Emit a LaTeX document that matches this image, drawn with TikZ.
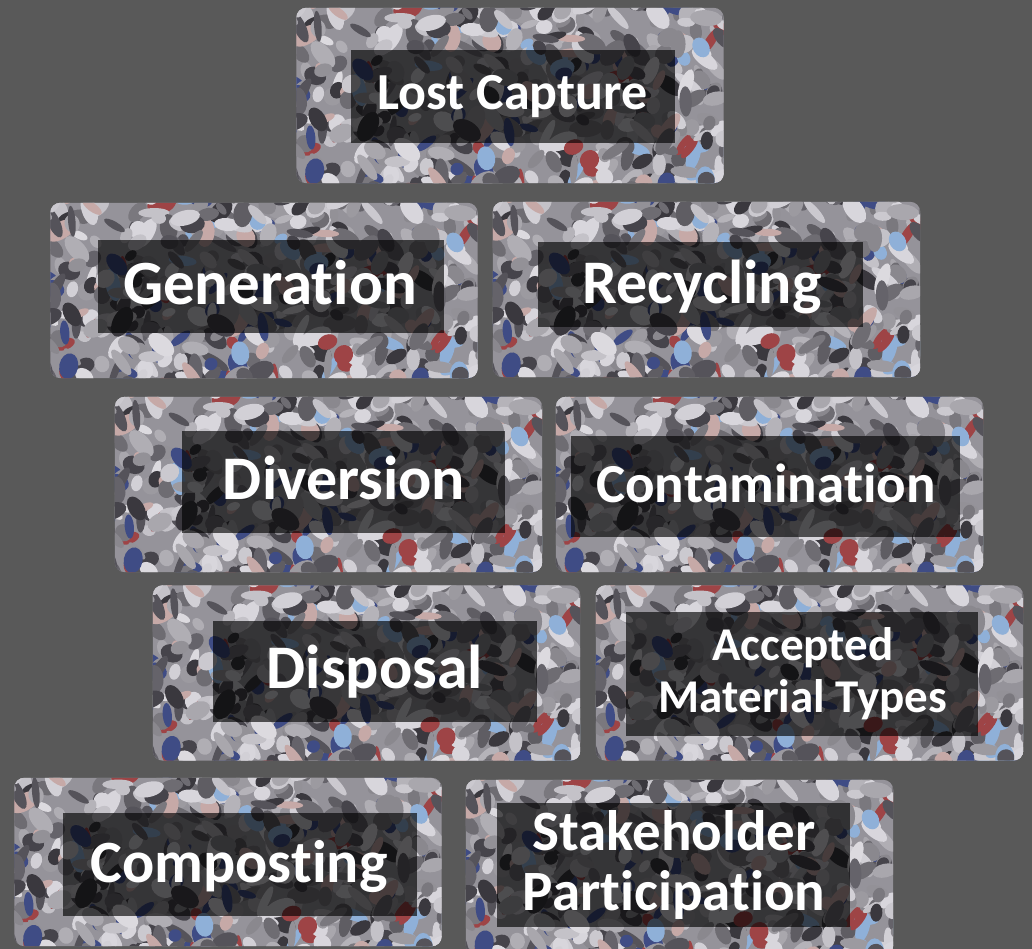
\documentclass[tikz,border=0pt]{standalone}
\usepackage{fontspec}
\setmainfont{Carlito}[RawFeature=-liga]
\definecolor{bgray}{HTML}{595959}
\definecolor{camobase}{HTML}{95939A}
\definecolor{camo0}{HTML}{DCDADF}
\definecolor{camo1}{HTML}{D2D0D6}
\definecolor{camo2}{HTML}{C4C2C8}
\definecolor{camo3}{HTML}{B5B3B9}
\definecolor{camo4}{HTML}{A9A7AD}
\definecolor{camo5}{HTML}{9C9AA0}
\definecolor{camo6}{HTML}{8A888E}
\definecolor{camo7}{HTML}{7A787E}
\definecolor{camo8}{HTML}{65636A}
\definecolor{camo9}{HTML}{55535A}
\definecolor{camo10}{HTML}{46444B}
\definecolor{camo11}{HTML}{3A383E}
\definecolor{camo12}{HTML}{9E4446}
\definecolor{camo13}{HTML}{3F4C85}
\definecolor{camo14}{HTML}{C6A9A7}
\definecolor{camo15}{HTML}{8FB0D8}
\definecolor{camo16}{HTML}{CBC9CF}
\definecolor{camo17}{HTML}{B0AEB4}
\definecolor{camo18}{HTML}{6E6C72}
\definecolor{camo19}{HTML}{D8D6DC}
\definecolor{camo20}{HTML}{939197}
\definecolor{camo21}{HTML}{5F5D63}
% the same speckled fill in every box, clipped to the box
\newcommand\camo[1]{%
  \begin{scope}
    \clip[rounded corners=10pt] (#1.north west) rectangle (#1.south east);
    \begin{scope}[shift={(#1.center)}]
      \pgfmathsetseed{1234}%
      \fill[camobase] (-225,-95) rectangle (225,95);
      \foreach \k in {1,...,580}{%
        \pgfmathsetmacro\bx{rnd*460-230}%
        \pgfmathsetmacro\by{rnd*200-100}%
        \pgfmathsetmacro\ba{6+rnd*11}%
        \pgfmathsetmacro\bb{3.5+rnd*6}%
        \pgfmathsetmacro\br{rnd*180}%
        \pgfmathtruncatemacro\bc{rnd*22}%
        \fill[camo\bc, shift={(\bx,\by)}, rotate=\br] (0,0) ellipse [x radius=\ba, y radius=\bb];
      }
    \end{scope}
  \end{scope}}

\begin{document}
\begin{tikzpicture}[x=1pt, y=-1pt, inner sep=0pt,
    tile/.style={rectangle, minimum width=427pt, minimum height=175pt},
    shade/.style={rectangle, fill=black, fill opacity=0.64},
    word/.style={anchor=base, text=white, align=center, font=\bfseries}]
  \fill[bgray] (0,0) rectangle (1032,949);
  \clip (0,0) rectangle (1032,949);
  % top row
  \node[tile] (lostbox) at (510,95.5) {};
  \camo{lostbox}
  \node[shade, minimum width=324pt, minimum height=93pt] (lostbg) at (513,96.5) {};
  \node[word, font=\bfseries\fontsize{52}{52}\selectfont] (lost) at (512.5,110) {Lost Capture};
  % generation, recycling
  \node[tile] (genbox) at (264,290.5) {};
  \camo{genbox}
  \node[shade, minimum width=346pt, minimum height=93pt] (genbg) at (271,286.5) {};
  \node[word, font=\bfseries\fontsize{63}{63}\selectfont] (gen) at (270,305) {Generation};
  \node[tile] (recbox) at (706.5,289.5) {};
  \camo{recbox}
  \node[shade, minimum width=325pt, minimum height=85pt] (recbg) at (700.5,284.5) {};
  \node[word, font=\bfseries\fontsize{62}{62}\selectfont] (rec) at (702,303) {Recycling};
  % diversion, contamination
  \node[tile] (divbox) at (328.5,484.5) {};
  \camo{divbox}
  \node[shade, minimum width=323pt, minimum height=102pt] (divbg) at (343.5,482) {};
  \node[word, font=\bfseries\fontsize{62}{62}\selectfont] (div) at (344,499) {Diversion};
  \node[tile] (conbox) at (769.5,484.5) {};
  \camo{conbox}
  \node[shade, minimum width=389pt, minimum height=101pt] (conbg) at (765.5,486.5) {};
  \node[word, font=\bfseries\fontsize{55}{55}\selectfont] (con) at (766,502) {Contamination};
  % disposal, accepted material types
  \node[tile] (disbox) at (366.5,673) {};
  \camo{disbox}
  \node[shade, minimum width=324pt, minimum height=101pt] (disbg) at (375,671.5) {};
  \node[word, font=\bfseries\fontsize{62}{62}\selectfont] (dis) at (375,688) {Disposal};
  \node[tile] (accbox) at (809.5,673) {};
  \camo{accbox}
  \node[shade, minimum width=352pt, minimum height=124pt] (accbg) at (802,674) {};
  \node[word, font=\bfseries\fontsize{47}{52}\selectfont] (acc) at (803,712) {Accepted\\Material Types};
  % composting, stakeholder participation
  \node[tile, minimum height=168pt] (combox) at (228,862) {};
  \camo{combox}
  \node[shade, minimum width=354pt, minimum height=103pt] (combg) at (240,864.5) {};
  \node[word, font=\bfseries\fontsize{60}{60}\selectfont] (com) at (239,882) {Composting};
  \node[tile] (stakebox) at (679.5,867.5) {};
  \camo{stakebox}
  \node[shade, minimum width=353pt, minimum height=124pt] (stakebg) at (673.5,865) {};
  \node[word, font=\bfseries\fontsize{57}{60}\selectfont] (stake) at (674,910) {Stakeholder\\Participation};
\end{tikzpicture}
\end{document}
